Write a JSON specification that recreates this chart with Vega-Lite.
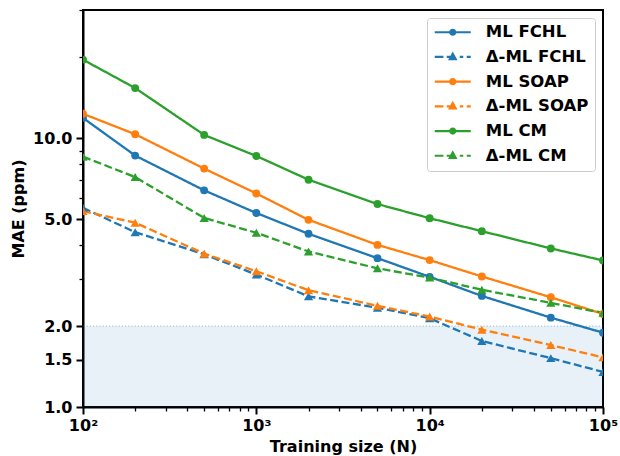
{
  "$schema": "https://vega.github.io/schema/vega-lite/v6.json",
  "width": 520,
  "height": 397,
  "autosize": "none",
  "padding": {"left": 83, "top": 10, "right": 17, "bottom": 49},
  "background": "white",
  "config": {
    "view": {"stroke": "black", "strokeWidth": 2},
    "font": "DejaVu Sans"
  },
  "data": {
    "values": [
      {"series": "ML FCHL", "n": 100, "mae": 11.9},
      {"series": "ML FCHL", "n": 200, "mae": 8.62},
      {"series": "ML FCHL", "n": 500, "mae": 6.40},
      {"series": "ML FCHL", "n": 1000, "mae": 5.27},
      {"series": "ML FCHL", "n": 2000, "mae": 4.41},
      {"series": "ML FCHL", "n": 5000, "mae": 3.58},
      {"series": "ML FCHL", "n": 10000, "mae": 3.05},
      {"series": "ML FCHL", "n": 20000, "mae": 2.59},
      {"series": "ML FCHL", "n": 50000, "mae": 2.15},
      {"series": "ML FCHL", "n": 100000, "mae": 1.89},
      {"series": "Δ-ML FCHL", "n": 100, "mae": 5.51},
      {"series": "Δ-ML FCHL", "n": 200, "mae": 4.47},
      {"series": "Δ-ML FCHL", "n": 500, "mae": 3.70},
      {"series": "Δ-ML FCHL", "n": 1000, "mae": 3.11},
      {"series": "Δ-ML FCHL", "n": 2000, "mae": 2.58},
      {"series": "Δ-ML FCHL", "n": 5000, "mae": 2.34},
      {"series": "Δ-ML FCHL", "n": 10000, "mae": 2.14},
      {"series": "Δ-ML FCHL", "n": 20000, "mae": 1.76},
      {"series": "Δ-ML FCHL", "n": 50000, "mae": 1.52},
      {"series": "Δ-ML FCHL", "n": 100000, "mae": 1.35},
      {"series": "ML SOAP", "n": 100, "mae": 12.33},
      {"series": "ML SOAP", "n": 200, "mae": 10.35},
      {"series": "ML SOAP", "n": 500, "mae": 7.71},
      {"series": "ML SOAP", "n": 1000, "mae": 6.23},
      {"series": "ML SOAP", "n": 2000, "mae": 4.97},
      {"series": "ML SOAP", "n": 5000, "mae": 4.01},
      {"series": "ML SOAP", "n": 10000, "mae": 3.52},
      {"series": "ML SOAP", "n": 20000, "mae": 3.06},
      {"series": "ML SOAP", "n": 50000, "mae": 2.56},
      {"series": "ML SOAP", "n": 100000, "mae": 2.22},
      {"series": "Δ-ML SOAP", "n": 100, "mae": 5.36},
      {"series": "Δ-ML SOAP", "n": 200, "mae": 4.85},
      {"series": "Δ-ML SOAP", "n": 500, "mae": 3.72},
      {"series": "Δ-ML SOAP", "n": 1000, "mae": 3.20},
      {"series": "Δ-ML SOAP", "n": 2000, "mae": 2.72},
      {"series": "Δ-ML SOAP", "n": 5000, "mae": 2.38},
      {"series": "Δ-ML SOAP", "n": 10000, "mae": 2.17},
      {"series": "Δ-ML SOAP", "n": 20000, "mae": 1.94},
      {"series": "Δ-ML SOAP", "n": 50000, "mae": 1.70},
      {"series": "Δ-ML SOAP", "n": 100000, "mae": 1.53},
      {"series": "ML CM", "n": 100, "mae": 19.6},
      {"series": "ML CM", "n": 200, "mae": 15.37},
      {"series": "ML CM", "n": 500, "mae": 10.29},
      {"series": "ML CM", "n": 1000, "mae": 8.59},
      {"series": "ML CM", "n": 2000, "mae": 7.01},
      {"series": "ML CM", "n": 5000, "mae": 5.69},
      {"series": "ML CM", "n": 10000, "mae": 5.04},
      {"series": "ML CM", "n": 20000, "mae": 4.51},
      {"series": "ML CM", "n": 50000, "mae": 3.89},
      {"series": "ML CM", "n": 100000, "mae": 3.51},
      {"series": "Δ-ML CM", "n": 100, "mae": 8.54},
      {"series": "Δ-ML CM", "n": 200, "mae": 7.17},
      {"series": "Δ-ML CM", "n": 500, "mae": 5.05},
      {"series": "Δ-ML CM", "n": 1000, "mae": 4.45},
      {"series": "Δ-ML CM", "n": 2000, "mae": 3.79},
      {"series": "Δ-ML CM", "n": 5000, "mae": 3.28},
      {"series": "Δ-ML CM", "n": 10000, "mae": 3.03},
      {"series": "Δ-ML CM", "n": 20000, "mae": 2.73},
      {"series": "Δ-ML CM", "n": 50000, "mae": 2.44},
      {"series": "Δ-ML CM", "n": 100000, "mae": 2.24}
    ]
  },
  "layer": [
    {
      "data": {"values": [{"lo": 1, "hi": 2}]},
      "mark": {"type": "rect", "color": "#1f77b4", "opacity": 0.1},
      "encoding": {
        "y": {"field": "lo", "type": "quantitative", "scale": {"type": "log"}, "title": "MAE (ppm)"},
        "y2": {"field": "hi"}
      }
    },
    {
      "data": {"values": [{"lo": 1, "hi": 2}]},
      "mark": {"type": "rule", "color": "#1f77b4", "opacity": 0.45, "strokeWidth": 1, "strokeDash": [1.2, 2]},
      "encoding": {
        "y": {"field": "hi", "type": "quantitative", "scale": {"type": "log"}, "title": "MAE (ppm)"}
      }
    },
    {
      "mark": {"type": "line", "strokeWidth": 2.3, "clip": true},
      "encoding": {
        "x": {
          "field": "n", "type": "quantitative",
          "scale": {"type": "log", "domain": [100, 100000], "nice": false},
          "axis": {
            "title": "Training size (N)",
            "values": [100, 200, 300, 400, 500, 600, 700, 800, 900, 1000, 2000, 3000, 4000, 5000, 6000, 7000, 8000, 9000, 10000, 20000, 30000, 40000, 50000, 60000, 70000, 80000, 90000, 100000],
            "labelExpr": "datum.value == 100 ? '10²' : datum.value == 1000 ? '10³' : datum.value == 10000 ? '10⁴' : datum.value == 100000 ? '10⁵' : ''",
            "labelFlush": false,
            "labelOverlap": false,
            "grid": false,
            "domainColor": "black",
            "domainWidth": 2,
            "tickColor": "black",
            "tickSize": {"condition": {"test": "indexof([100,1000,10000,100000], datum.value) >= 0", "value": 7}, "value": 4},
            "tickWidth": {"condition": {"test": "indexof([100,1000,10000,100000], datum.value) >= 0", "value": 2}, "value": 1.3},
            "labelFont": "DejaVu Sans",
            "labelFontWeight": "bold",
            "labelFontSize": 16,
            "labelColor": "black",
            "labelPadding": 3,
            "titleFont": "DejaVu Sans",
            "titleFontWeight": "bold",
            "titleFontSize": 16,
            "titleColor": "black",
            "titlePadding": 5
          }
        },
        "y": {
          "field": "mae", "type": "quantitative",
          "scale": {"type": "log", "domain": [1, 30], "nice": false},
          "title": "MAE (ppm)",
          "axis": {
            "values": [1, 1.5, 2, 3, 4, 5, 6, 7, 8, 9, 10, 20, 30],
            "labelExpr": "indexof([1,1.5,2,5,10], datum.value) >= 0 ? format(datum.value, '.1f') : ''",
            "labelFlush": false,
            "labelOverlap": false,
            "grid": false,
            "domainColor": "black",
            "domainWidth": 2,
            "tickColor": "black",
            "tickSize": {"condition": {"test": "indexof([1,1.5,2,5,10], datum.value) >= 0", "value": 7}, "value": 4},
            "tickWidth": {"condition": {"test": "indexof([1,1.5,2,5,10], datum.value) >= 0", "value": 2}, "value": 1.3},
            "labelFont": "DejaVu Sans",
            "labelFontWeight": "bold",
            "labelFontSize": 16,
            "labelColor": "black",
            "labelPadding": 4,
            "titleFont": "DejaVu Sans",
            "titleFontWeight": "bold",
            "titleFontSize": 16,
            "titleColor": "black",
            "titlePadding": 6
          }
        },
        "color": {
          "field": "series", "type": "nominal", "legend": null,
          "scale": {
            "range": ["#2ca02c", "#1f77b4", "#ff7f0e", "#2ca02c", "#1f77b4", "#ff7f0e"]
          }
        },
        "strokeDash": {
          "field": "series", "type": "nominal", "legend": null,
          "scale": {
            "range": [[1, 0], [1, 0], [1, 0], [8, 3.5], [8, 3.5], [8, 3.5]]
          }
        }
      }
    },
    {
      "transform": [{"filter": "indexof(datum.series, 'Δ') < 0"}],
      "mark": {"type": "point", "shape": "circle", "filled": true, "opacity": 1, "size": 62, "clip": true},
      "encoding": {
        "x": {"field": "n", "type": "quantitative", "scale": {"type": "log"}, "title": "Training size (N)"},
        "y": {"field": "mae", "type": "quantitative", "scale": {"type": "log"}, "title": "MAE (ppm)"},
        "color": {"field": "series", "type": "nominal", "legend": null}
      }
    },
    {
      "transform": [{"filter": "indexof(datum.series, 'Δ') >= 0"}],
      "mark": {"type": "point", "shape": "triangle-up", "filled": true, "opacity": 1, "size": 85, "clip": true},
      "encoding": {
        "x": {"field": "n", "type": "quantitative", "scale": {"type": "log"}, "title": "Training size (N)"},
        "y": {"field": "mae", "type": "quantitative", "scale": {"type": "log"}, "title": "MAE (ppm)"},
        "color": {"field": "series", "type": "nominal", "legend": null}
      }
    },
    {
      "mark": {"type": "point", "filled": true, "opacity": 0, "clip": true},
      "encoding": {
        "x": {"field": "n", "type": "quantitative", "scale": {"type": "log"}, "title": "Training size (N)"},
        "y": {"field": "mae", "type": "quantitative", "scale": {"type": "log"}, "title": "MAE (ppm)"},
        "fill": {
          "field": "series", "type": "nominal",
          "scale": {
            "domain": ["ML FCHL", "Δ-ML FCHL", "ML SOAP", "Δ-ML SOAP", "ML CM", "Δ-ML CM"],
            "range": ["#1f77b4", "#1f77b4", "#ff7f0e", "#ff7f0e", "#2ca02c", "#2ca02c"]
          },
          "legend": {"title": null}
        },
        "stroke": {
          "field": "series", "type": "nominal",
          "scale": {
            "domain": ["ML FCHL", "Δ-ML FCHL", "ML SOAP", "Δ-ML SOAP", "ML CM", "Δ-ML CM"],
            "range": ["#1f77b4", "#1f77b4", "#ff7f0e", "#ff7f0e", "#2ca02c", "#2ca02c"]
          },
          "legend": {"title": null}
        },
        "shape": {
          "field": "series", "type": "nominal",
          "scale": {
            "domain": ["ML FCHL", "Δ-ML FCHL", "ML SOAP", "Δ-ML SOAP", "ML CM", "Δ-ML CM"],
            "range": [
              "M-3.6,0H3.6M0.5,0A0.5,0.5,0,1,1,-0.5,0A0.5,0.5,0,1,1,0.5,0Z",
              "M-3.6,0H-1.86M-1.2,0H-0.5M1.4,0H2.1M2.8,0H3.6M0,-0.64L0.58,0.42L-0.58,0.42Z",
              "M-3.6,0H3.6M0.5,0A0.5,0.5,0,1,1,-0.5,0A0.5,0.5,0,1,1,0.5,0Z",
              "M-3.6,0H-1.86M-1.2,0H-0.5M1.4,0H2.1M2.8,0H3.6M0,-0.64L0.58,0.42L-0.58,0.42Z",
              "M-3.6,0H3.6M0.5,0A0.5,0.5,0,1,1,-0.5,0A0.5,0.5,0,1,1,0.5,0Z",
              "M-3.6,0H-1.86M-1.2,0H-0.5M1.4,0H2.1M2.8,0H3.6M0,-0.64L0.58,0.42L-0.58,0.42Z"
            ]
          },
          "legend": {
            "title": null,
            "orient": "top-right",
            "offset": 8,
            "symbolSize": 100,
            "symbolStrokeWidth": 2.2,
            "symbolOpacity": 1,
            "symbolOffset": 11.5,
            "labelOffset": 24.8,
            "labelFont": "DejaVu Sans",
            "labelFontWeight": "bold",
            "labelFontSize": 16.5,
            "labelColor": "black",
            "padding": 6,
            "rowPadding": 7.7,
            "strokeColor": "#cccccc",
            "fillColor": "white",
            "cornerRadius": 3
          }
        }
      }
    }
  ]
}
